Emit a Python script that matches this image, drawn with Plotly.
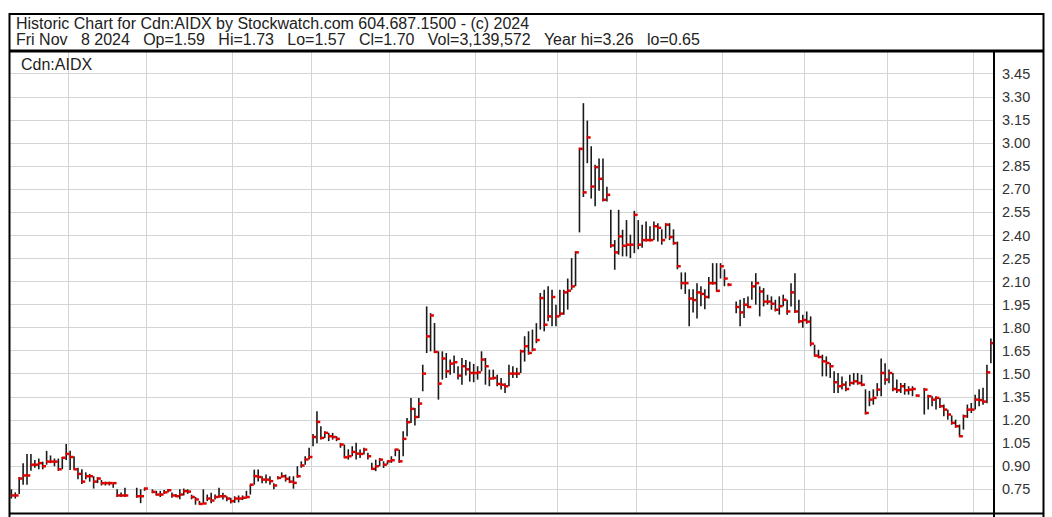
import plotly.graph_objects as go

# ---------------- data ----------------
TITLE_LINE1 = "Historic Chart for Cdn:AIDX by Stockwatch.com 604.687.1500 - (c) 2024"
TITLE_LINE2 = "Fri Nov   8 2024   Op=1.59   Hi=1.73   Lo=1.57   Cl=1.70   Vol=3,139,572   Year hi=3.26   lo=0.65"
SYMBOL = "Cdn:AIDX"

# trading days per month, Nov 2023 .. Nov 2024 (month gridlines sit between months)
MONTH_BARS = [15, 20, 22, 20, 20, 22, 21, 20, 22, 21, 21, 22, 5]

Y_TICKS = [0.75, 0.90, 1.05, 1.20, 1.35, 1.50, 1.65, 1.80, 1.95, 2.10,
           2.25, 2.40, 2.55, 2.70, 2.85, 3.00, 3.15, 3.30, 3.45]
Y_TICK_LABELS = ["0.75", "0.90", "1.05", "1.20", "1.35", "1.50", "1.65", "1.80", "1.95", "2.10",
                 "2.25", "2.40", "2.55", "2.70", "2.85", "3.00", "3.15", "3.30", "3.45"]

HIGH = [
    # Nov 2023
    .75, .73, .83, .92, .98, .98, .94, .95, .93, 1.00, .97, .95, .95, .96, 1.045,
    # Dec
    1.00, .965, .89, .88, .86, .85, .835, .83, .81, .80, .80, .79, .75, .73, .76, None, None, .76, .75, .76,
    # Jan 2024
    None, .75, .74, .74, .745, .75, .73, .72, .75, .755, .75, .715, .70, .675, .75, .716, .727, .716, .76, .727, .705, .695,
    # Feb
    .705, .71, .71, .74, .78, .878, .878, .835, .846, .835, .79, .835, .86, .846, .835, .835, .90, .932, .965, 1.02,
    # Mar
    1.11, 1.257, 1.16, 1.127, 1.117, 1.117, 1.095, 1.052, 1.041, 1.01, 1.03, 1.052, 1.008, 1.02, .987, .922, .943, .954, .932, .932,
    # Apr
    .965, 1.013, 1.008, 1.127, 1.214, 1.344, 1.279, 1.344, 1.56, 1.939, 1.895, 1.831, 1.647, 1.647, 1.636, 1.593, 1.62, 1.55, 1.603, 1.59, 1.58, 1.565,
    # May
    1.55, 1.647, 1.604, 1.528, 1.528, 1.495, 1.474, 1.44, 1.56, 1.55, 1.54, 1.658, 1.745, 1.777, 1.788, 1.83, 2.026, 2.047, 2.07, 2.047, 1.95,
    # Jun
    2.047, 2.047, 2.12, 2.253, 2.296, 2.97, 3.26, 3.147, 2.98, 2.86, 2.90, 2.90, 2.717, 2.567, 2.37, 2.567, 2.437, 2.50, 2.405, 2.56,
    # Jul
    2.50, 2.47, 2.49, 2.46, 2.49, 2.48, 2.44, 2.48, 2.48, 2.44, 2.36, 2.16, 2.16, 2.05, 2.05, 2.09, 2.07, 2.05, 2.13, 2.22, 2.22, 2.22,
    # Aug
    2.18, 2.09, None, 1.97, 1.982, 1.993, 2.004, 2.10, 2.155, 2.069, 2.058, 2.015, 2.004, 1.982, 2.004, 2.015, 1.982, 2.09, 2.155, 1.982, 1.885,
    # Sep
    1.906, 1.874, 1.69, 1.657, 1.625, 1.614, 1.571, 1.517, 1.506, 1.484, 1.452, 1.495, 1.506, 1.506, 1.495, 1.40, 1.39, 1.40, 1.44, 1.60, 1.57,
    # Oct
    1.528, 1.506, 1.463, 1.441, 1.441, 1.42, 1.42, 1.365, None, 1.409, 1.365, 1.355, 1.355, 1.344, 1.301, 1.268, 1.23, 1.203, 1.171, 1.236, 1.301, 1.311,
    # Nov
    1.365, 1.40, 1.41, 1.56, 1.73,
]

LOW = [
    # Nov 2023
    .69, .69, .72, .78, .78, .87, .89, .88, .88, .91, .92, .90, .87, .88, .94,
    # Dec
    .875, .88, .815, .785, .815, .80, .755, .79, .775, .775, .775, .76, .70, .70, .70, None, None, .695, .66, .74,
    # Jan
    None, .725, .71, .70, .72, .73, .695, .70, .685, .71, .72, .685, .65, .65, .655, .673, .66, .684, .695, .684, .673, .658,
    # Feb
    .662, .665, .68, .69, .716, .78, .80, .79, .79, .78, .75, .815, .825, .80, .79, .754, .825, .89, .91, .944,
    # Mar
    1.03, 1.05, 1.073, 1.084, 1.063, 1.073, 1.063, 1.02, .954, .943, .965, .943, .954, .976, .943, .878, .868, .90, .889, .911,
    # Apr
    .922, .965, .922, .965, 1.095, 1.181, 1.164, 1.214, 1.387, 1.636, 1.647, 1.636, 1.333, 1.463, 1.474, 1.495, 1.506, 1.463, 1.43, 1.49, 1.45, 1.446,
    # May
    1.463, 1.517, 1.43, 1.42, 1.463, 1.42, 1.398, 1.376, 1.42, 1.474, 1.474, 1.506, 1.58, 1.625, 1.647, 1.70, 1.788, 1.777, 1.842, 1.81, 1.81,
    # Jun
    1.874, 1.885, 1.918, 2.047, 2.07, 2.42, 2.65, 2.87, 2.64, 2.59, 2.69, 2.62, 2.62, 2.32, 2.177, 2.275, 2.264, 2.264, 2.253, 2.285,
    # Jul
    2.31, 2.32, 2.36, 2.36, 2.37, 2.36, 2.34, 2.38, 2.37, 2.34, 2.18, 2.05, 2.02, 1.81, 1.90, 1.86, 1.94, 1.92, 1.99, 2.08, 2.036, 2.12,
    # Aug
    2.07, 2.07, None, 1.895, 1.81, 1.863, 1.928, 1.982, 1.95, 1.874, 1.939, 1.95, 1.917, 1.906, 1.885, 1.939, 1.885, 1.939, 1.896, 1.83, 1.80,
    # Sep
    1.826, 1.68, 1.614, 1.603, 1.484, 1.484, 1.474, 1.376, 1.376, 1.398, 1.387, 1.42, 1.43, 1.43, 1.42, 1.236, 1.29, 1.30, 1.355, 1.355, 1.43,
    # Oct
    1.44, 1.387, 1.376, 1.376, 1.365, 1.365, 1.355, 1.355, None, 1.236, 1.268, 1.29, 1.268, 1.279, 1.225, 1.203, 1.17, 1.15, 1.095, 1.138, 1.214, 1.246,
    # Nov
    1.268, 1.29, 1.30, 1.31, 1.57,
]

CLOSE = [
    # Nov 2023
    .71, .71, .82, .84, .84, .91, .91, .92, .90, .93, .93, .93, .88, .955, .98,
    # Dec
    .96, .88, .85, .80, .835, .835, .80, .82, .79, .79, .79, .79, .71, .71, .71, None, None, .705, .705, .755,
    # Jan
    None, .733, .716, .716, .73, .744, .71, .705, .716, .738, .735, .70, .684, .655, .658, .69, .677, .70, .705, .705, .69, .673,
    # Feb
    .69, .69, .695, .70, .78, .835, .83, .813, .813, .803, .775, .824, .835, .818, .80, .792, .835, .905, .944, .96,
    # Mar
    1.09, 1.188, 1.084, 1.117, 1.095, 1.09, 1.078, 1.041, .958, .965, .993, .982, .98, 1.008, .965, .883, .90, .943, .91, .932,
    # Apr
    .939, 1.008, .932, 1.078, 1.186, 1.273, 1.22, 1.307, 1.502, 1.744, 1.88, 1.643, 1.437, 1.60, 1.517, 1.567, 1.576, 1.489, 1.55, 1.53, 1.506, 1.506,
    # May
    1.51, 1.593, 1.55, 1.47, 1.474, 1.435, 1.43, 1.42, 1.502, 1.502, 1.502, 1.647, 1.68, 1.636, 1.658, 1.72, 1.993, 1.82, 1.874, 2.0, 1.874,
    # Jun
    1.892, 2.03, 2.041, 2.069, 2.29, 2.963, 2.68, 3.037, 2.718, 2.844, 2.768, 2.632, 2.664, 2.335, 2.29, 2.394, 2.333, 2.34, 2.34, 2.534,
    # Jul
    2.34, 2.37, 2.37, 2.37, 2.46, 2.45, 2.37, 2.47, 2.39, 2.35, 2.20, 2.09, 2.09, 1.99, 1.98, 2.03, 2.02, 2.00, 2.09, 2.09, 2.04, 2.20,
    # Aug
    2.12, 2.08, None, 1.935, 1.90, 1.95, 1.935, 2.069, 2.09, 2.036, 1.97, 1.97, 1.956, 1.917, 1.94, 1.982, 1.906, 2.03, 1.906, 1.842, 1.85,
    # Sep
    1.84, 1.697, 1.619, 1.61, 1.582, 1.571, 1.55, 1.446, 1.42, 1.43, 1.402, 1.441, 1.452, 1.441, 1.43, 1.246, 1.333, 1.344, 1.398, 1.506, 1.463,
    # Oct
    1.506, 1.402, 1.394, 1.42, 1.394, 1.398, 1.402, 1.359, None, 1.398, 1.355, 1.333, 1.344, 1.29, 1.268, 1.236, 1.182, 1.16, 1.095, 1.225, 1.268, 1.268,
    # Nov
    1.333, 1.33, 1.32, 1.51, 1.70,
]

# ---------------- figure ----------------
W, H = 1052, 517
PL, PR, PT, PB = 9, 1052 - 994, 51, 4           # plot area: x 9..994, y 51..513
PW, PH = W - PL - PR, H - PT - PB


def px_x(x):
    return (x - PL) / PW


def px_y(y):
    return (H - PB - y) / PH


# month boundary gridlines (between the last bar of a month and the first of the next)
month_lines = []
acc = 0
for n in MONTH_BARS[:-1]:
    acc += n
    month_lines.append(acc - 0.5)

hl_x, hl_y, cl_x, cl_y = [], [], [], []
for i, (h, l, c) in enumerate(zip(HIGH, LOW, CLOSE)):
    if h is None:
        continue
    hl_x += [i, i, None]
    hl_y += [l, h, None]
    cl_x += [i - 0.15, i + 0.85, None]
    cl_y += [c, c, None]

fig = go.Figure()
fig.add_trace(go.Scatter(x=hl_x, y=hl_y, mode="lines", line=dict(color="#1a1a1a", width=1.6),
                         hoverinfo="skip", showlegend=False))
fig.add_trace(go.Scatter(x=cl_x, y=cl_y, mode="lines", line=dict(color="#e00000", width=2.5),
                         hoverinfo="skip", showlegend=False))

FONT = "Liberation Sans, Arial, sans-serif"
TXT = "#222222"
GRID = "#d4d4d4"

fig.update_layout(
    width=W, height=H,
    margin=dict(l=PL, r=PR, t=PT, b=PB, pad=0),
    paper_bgcolor="white", plot_bgcolor="white",
    font=dict(family=FONT, size=14, color=TXT),
    showlegend=False,
    xaxis=dict(range=[-0.6, 250.8], tickvals=month_lines, showticklabels=False, ticks="",
               showgrid=True, gridcolor=GRID, gridwidth=1, zeroline=False, showline=False,
               fixedrange=True),
    yaxis=dict(range=[0.596, 3.599], side="right", tickvals=Y_TICKS, ticktext=Y_TICK_LABELS,
               ticks="", ticklabelstandoff=7, showgrid=True, gridcolor=GRID, gridwidth=1,
               zeroline=False, showline=False, tickfont=dict(family=FONT, size=14.5, color="#333333"),
               fixedrange=True),
)

shapes = []
BLACK = "#000000"
# outer frame and header
shapes.append(dict(type="line", xref="paper", yref="paper", x0=px_x(9), x1=px_x(1043.5),
                   y0=px_y(14), y1=px_y(14), line=dict(color=BLACK, width=2)))
shapes.append(dict(type="line", xref="paper", yref="paper", x0=px_x(9), x1=px_x(1043.5),
                   y0=px_y(51), y1=px_y(51), line=dict(color=BLACK, width=3)))
shapes.append(dict(type="line", xref="paper", yref="paper", x0=px_x(9.5), x1=px_x(9.5),
                   y0=px_y(13), y1=px_y(518), line=dict(color=BLACK, width=2)))
shapes.append(dict(type="line", xref="paper", yref="paper", x0=px_x(1043.5), x1=px_x(1043.5),
                   y0=px_y(13), y1=px_y(518), line=dict(color=BLACK, width=2)))
shapes.append(dict(type="line", xref="paper", yref="paper", x0=px_x(994), x1=px_x(994),
                   y0=px_y(51), y1=px_y(518), line=dict(color=BLACK, width=2)))
shapes.append(dict(type="line", xref="paper", yref="paper", x0=px_x(9), x1=px_x(1043.5),
                   y0=px_y(513.5), y1=px_y(513.5), line=dict(color=BLACK, width=2)))
fig.update_layout(shapes=shapes)

nb = "\u00a0"
fig.add_annotation(xref="paper", yref="paper", x=px_x(13.5), y=px_y(23.5), xanchor="left", yanchor="middle",
                   text=TITLE_LINE1.replace(" ", nb), showarrow=False,
                   font=dict(family=FONT, size=16, color=TXT))
fig.add_annotation(xref="paper", yref="paper", x=px_x(13.5), y=px_y(39.5), xanchor="left", yanchor="middle",
                   text=TITLE_LINE2.replace(" ", nb), showarrow=False,
                   font=dict(family=FONT, size=16, color=TXT))
fig.add_annotation(xref="paper", yref="paper", x=px_x(19), y=px_y(64), xanchor="left", yanchor="middle",
                   text=SYMBOL, showarrow=False, font=dict(family=FONT, size=16, color=TXT))

fig.write_html("out.html", config={"displayModeBar": False},
               post_script="document.body.style.margin='0';document.body.style.overflow='hidden';")
